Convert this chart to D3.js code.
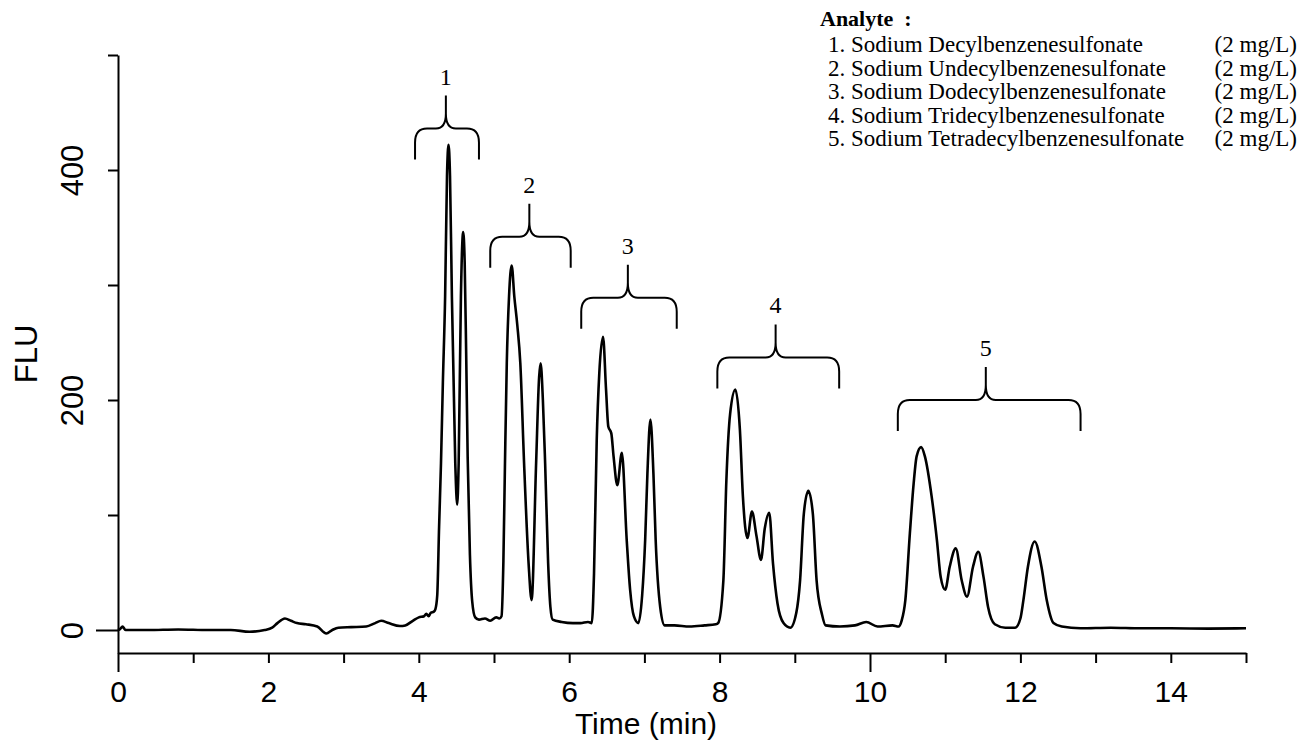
<!DOCTYPE html>
<html>
<head>
<meta charset="utf-8">
<script src="https://cdn.jsdelivr.net/npm/d3@7"></script>
<style>
  body { margin: 0; background: #fff; }
  .axis path, .axis line { stroke: #000; stroke-width: 2; }
  .axis text { font-family: "Liberation Sans", Arial, sans-serif; fill: #000; }
  .legend text { font-family: "Liberation Serif", "Times New Roman", serif; fill: #000; }
</style>
</head>
<body>
<svg class="chrom" width="1299" height="742"></svg>
<script>
// chromatogram (time in min, signal in FLU)
var time = [0.00, 0.03, 0.06, 0.10, 0.40, 0.80, 1.20, 1.50, 1.75, 1.95, 2.05, 2.12, 2.22, 2.30, 2.38, 2.50, 2.65, 2.77, 2.85, 2.93,
  3.10, 3.30, 3.42, 3.50, 3.60, 3.75, 3.82, 3.92, 4.00, 4.07, 4.10, 4.13, 4.16, 4.20, 4.22, 4.245, 4.27, 4.295, 4.32, 4.35,
  4.375, 4.395, 4.415, 4.44, 4.485, 4.51, 4.53, 4.56, 4.59, 4.61, 4.63, 4.65, 4.68, 4.71, 4.75, 4.80, 4.88, 4.95, 5.03, 5.07,
  5.10, 5.125, 5.146, 5.17, 5.20, 5.235, 5.27, 5.31, 5.35, 5.40, 5.46, 5.50, 5.56, 5.60, 5.62, 5.65, 5.68, 5.72, 5.75, 5.78,
  5.90, 6.05, 6.15, 6.25, 6.30, 6.33, 6.366, 6.40, 6.45, 6.49, 6.52, 6.56, 6.59, 6.64, 6.70, 6.765, 6.81, 6.86, 6.92, 6.97,
  7.01, 7.04, 7.08, 7.12, 7.15, 7.21, 7.27, 7.40, 7.60, 7.80, 7.95, 7.98, 8.05, 8.09, 8.14, 8.21, 8.27, 8.31, 8.37, 8.43,
  8.49, 8.55, 8.60, 8.66, 8.71, 8.77, 8.85, 8.94, 9.02, 9.07, 9.12, 9.18, 9.24, 9.29, 9.36, 9.41, 9.60, 9.80, 9.95, 10.10,
  10.30, 10.38, 10.42, 10.47, 10.53, 10.58, 10.62, 10.68, 10.73, 10.82, 10.89, 10.94, 11.00, 11.06, 11.14, 11.22, 11.29, 11.37, 11.44, 11.51,
  11.57, 11.66, 11.80, 11.93, 12.00, 12.04, 12.10, 12.19, 12.28, 12.35, 12.44, 12.55, 12.80, 13.20, 13.60, 14.00, 14.50, 15.00];
var flu = [0, 1, 3, 0, 0, 0.5, 0, 0, -1.5, 0, 2, 6, 10, 8, 6, 5, 3, -3, 0, 2,
  2.5, 3, 6, 8, 6, 3.5, 4, 8, 11, 12, 14, 12, 15, 16, 18, 30, 90, 145, 215, 290,
  395, 422, 395, 290, 145, 109, 145, 290, 346, 320, 240, 150, 65, 25, 11, 9, 10, 8, 11, 10,
  12, 60, 145, 232, 290, 317, 290, 265, 232, 145, 58, 26, 145, 220, 232, 200, 145, 58, 20, 9,
  7, 6, 6, 7, 6, 49, 165, 223, 255, 209, 177, 171, 151, 126, 154, 78, 35, 12, 6, 30,
  78, 136, 183, 136, 78, 20, 4, 4, 3, 4, 5, 6, 43, 130, 188, 209, 174, 116, 80, 103,
  82, 61, 88, 102, 58, 23, 6, 2, 15, 43, 101, 121, 101, 43, 14, 4, 3, 4, 7, 3,
  4, 3, 8, 26, 84, 127, 151, 159, 151, 116, 78, 46, 35, 55, 71, 43, 29, 55, 68, 46,
  20, 5, 2, 2, 10, 26, 55, 77, 55, 26, 6, 3, 1.5, 2, 1.5, 1.5, 1.2, 1.5];

// peak group brackets
var groupLabels = ['1', '2', '3', '4', '5'];
var groupStart = [3.95, 4.95, 6.16, 7.97, 10.37];
var groupEnd = [4.80, 6.02, 7.43, 9.59, 12.80];
var groupTip = [4.36, 5.47, 6.78, 8.745, 11.54];
var groupLevel = [436, 342, 289, 237, 200];

// legend
var analytes = ['1. Sodium Decylbenzenesulfonate', '2. Sodium Undecylbenzenesulfonate',
  '3. Sodium Dodecylbenzenesulfonate', '4. Sodium Tridecylbenzenesulfonate',
  '5. Sodium Tetradecylbenzenesulfonate'];
var concs = ['(2 mg/L)', '(2 mg/L)', '(2 mg/L)', '(2 mg/L)', '(2 mg/L)'];

var xTicks = d3.range(0, 16);
var yTicks = [0, 100, 200, 300, 400, 500];

var svg = d3.select('.chrom');
svg.append('rect').attr('width', 1299).attr('height', 742).attr('fill', '#fff');

var xScale = d3.scaleLinear().domain([0, 15]).range([118, 1246]);
var yScale = d3.scaleLinear().domain([-20, 500]).range([653, 55]);

// x axis, labels on even minutes, long ticks at 0 and 10
var xAxis = d3.axisBottom(xScale)
    .tickValues(xTicks)
    .tickSize(10)
    .tickSizeOuter(0)
    .tickFormat(function(d) { return d % 2 === 0 ? d : ''; });
var xG = svg.append('g').attr('class', 'x axis')
    .attr('transform', 'translate(0,' + yScale(-20) + ')')
    .call(xAxis);
xG.selectAll('.tick line').attr('y2', function(d) { return d % 10 === 0 ? 19 : 10; });
xG.selectAll('.tick text').attr('y', 49).attr('dy', 0).style('font-size', '30px');

// y axis with rotated labels
var yAxis = d3.axisLeft(yScale)
    .tickValues(yTicks)
    .tickSize(10)
    .tickSizeOuter(0)
    .tickFormat(function(d) { return d % 200 === 0 ? d : ''; });
var yG = svg.append('g').attr('class', 'y axis')
    .attr('transform', 'translate(' + xScale(0) + ',0)')
    .call(yAxis);
yG.selectAll('.tick line').attr('x2', function(d) { return d === 0 ? -22 : -10; });
yG.selectAll('.tick text')
    .attr('transform', 'rotate(-90)')
    .attr('x', 0).attr('y', -35).attr('dy', 0)
    .attr('text-anchor', 'middle')
    .style('font-size', '31px');

svg.append('text')
    .attr('transform', 'translate(37,' + yScale(240) + ') rotate(-90)')
    .attr('text-anchor', 'middle')
    .style('font-family', '"Liberation Sans", Arial, sans-serif')
    .style('font-size', '31px')
    .text('FLU');

svg.append('text')
    .attr('x', 646).attr('y', 734)
    .attr('text-anchor', 'middle')
    .style('font-family', '"Liberation Sans", Arial, sans-serif')
    .style('font-size', '30px')
    .text('Time (min)');

// the trace
var points = time.map(function(t, i) { return {t: t, v: flu[i]}; });
var line = d3.line()
    .x(function(d) { return xScale(d.t); })
    .y(function(d) { return yScale(d.v); })
    .curve(d3.curveMonotoneX);
svg.append('path')
    .datum(points)
    .attr('fill', 'none')
    .attr('stroke', '#000')
    .attr('stroke-width', 2.6)
    .attr('stroke-linejoin', 'round')
    .attr('d', line);

// curly brackets over each group
function bracePath(i) {
  var x0 = xScale(groupStart[i]), x1 = xScale(groupEnd[i]), xm = xScale(groupTip[i]);
  var yt = yScale(groupLevel[i]), yb = yt + 31, yTip = yt - 33;
  return 'M' + x0 + ',' + yb + ' L' + x0 + ',' + (yt + 14) +
    ' Q' + x0 + ',' + yt + ' ' + (x0 + 12) + ',' + yt +
    ' L' + (xm - 10) + ',' + yt +
    ' Q' + xm + ',' + yt + ' ' + xm + ',' + (yt - 15) +
    ' L' + xm + ',' + yTip +
    ' M' + xm + ',' + (yt - 15) +
    ' Q' + xm + ',' + yt + ' ' + (xm + 10) + ',' + yt +
    ' L' + (x1 - 12) + ',' + yt +
    ' Q' + x1 + ',' + yt + ' ' + x1 + ',' + (yt + 14) +
    ' L' + x1 + ',' + yb;
}
var braces = svg.append('g').attr('class', 'braces');
braces.selectAll('path')
    .data(groupLabels)
    .enter().append('path')
    .attr('d', function(d, i) { return bracePath(i); })
    .attr('fill', 'none')
    .attr('stroke', '#000')
    .attr('stroke-width', 2);
braces.selectAll('text')
    .data(groupLabels)
    .enter().append('text')
    .attr('x', function(d, i) { return xScale(groupTip[i]); })
    .attr('y', function(d, i) { return yScale(groupLevel[i]) - 44; })
    .attr('text-anchor', 'middle')
    .style('font-family', '"Liberation Serif", "Times New Roman", serif')
    .style('font-size', '24px')
    .text(function(d) { return d; });

// legend block
var legend = svg.append('g').attr('class', 'legend');
legend.append('text')
    .attr('x', 820).attr('y', 26)
    .style('font-size', '22px').style('font-weight', 'bold')
    .text('Analyte \u00a0:');
legend.selectAll('.name')
    .data(analytes)
    .enter().append('text')
    .attr('class', 'name')
    .attr('x', 828)
    .attr('y', function(d, i) { return 52 + i * 23.5; })
    .style('font-size', '23px')
    .text(function(d) { return d; });
legend.selectAll('.conc')
    .data(concs)
    .enter().append('text')
    .attr('class', 'conc')
    .attr('x', 1297)
    .attr('y', function(d, i) { return 52 + i * 23.5; })
    .attr('text-anchor', 'end')
    .style('font-size', '23px')
    .text(function(d) { return d; });
</script>
</body>
</html>
